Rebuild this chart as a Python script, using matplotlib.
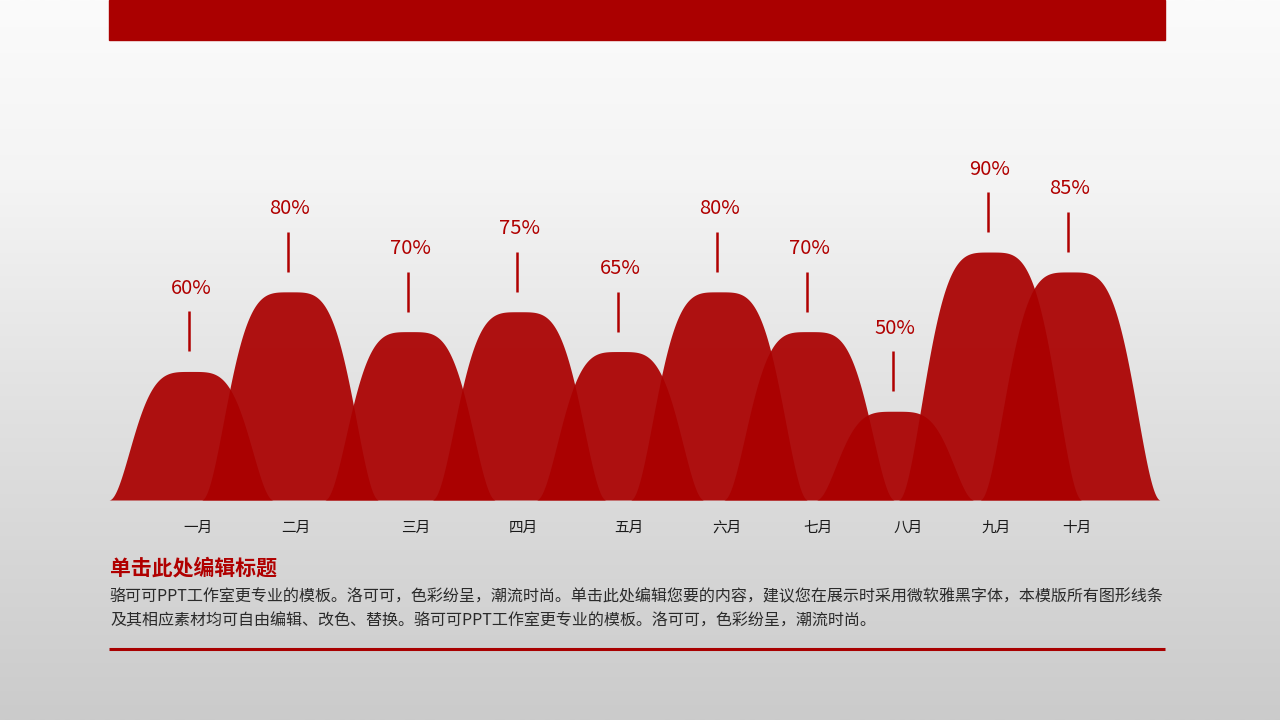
import numpy as np
import matplotlib
matplotlib.use("Agg")
import matplotlib.pyplot as plt
from matplotlib.colors import LinearSegmentedColormap

plt.rcParams['font.family'] = ['Noto Sans CJK SC', 'DejaVu Sans']

# ---- data ----
months = ["一月", "二月", "三月", "四月", "五月", "六月", "七月", "八月", "九月", "十月"]
values = [60, 80, 70, 75, 65, 80, 70, 50, 90, 85]
labels = [f"{v}%" for v in values]

# ---- layout (pixel-based x positions of the peaks) ----
peak_x = [191, 290, 410, 519, 620, 719, 809, 895, 990, 1070]
label_dx = [7, 6, 6, 4, 9, 8, 9, 13, 6, 7]
baseline = 27.7          # value at the chart floor
ytop = 128.2

title = "单击此处编辑标题"
body_lines = [
    "骆可可PPT工作室更专业的模板。洛可可，色彩纷呈，潮流时尚。单击此处编辑您要的内容，建议您在展示时采用微软雅黑字体，本模版所有图形线条",
    "及其相应素材均可自由编辑、改色、替换。骆可可PPT工作室更专业的模板。洛可可，色彩纷呈，潮流时尚。",
]

W, H = 1280, 720
fig = plt.figure(figsize=(12.8, 7.2), dpi=100)

# background gradient
bg = fig.add_axes([0, 0, 1, 1])
cmap = LinearSegmentedColormap.from_list(
    "bg", [(0.0, "#fbfbfb"), (0.25, "#f4f4f4"), (0.55, "#e2e2e2"), (1.0, "#cbcbcb")])
grad = np.linspace(0, 1, 256).reshape(-1, 1)
bg.imshow(grad, aspect="auto", cmap=cmap, extent=[0, W, H, 0])
bg.set_xlim(0, W)
bg.set_ylim(H, 0)
bg.axis("off")

# top bar and bottom rule
bg.add_patch(plt.Rectangle((109, 0), 1056, 40, color="#aa0000", zorder=2))
bg.plot([109, 1165], [648.5, 648.5], color="#a80000", lw=2.2, zorder=2,
        solid_capstyle="butt")

# title and body text
bg.text(110, 568, title, fontsize=15, fontweight="bold", color="#b00000",
        va="center", ha="left")
for i, line in enumerate(body_lines):
    bg.text(110, 597 + i * 24, line, fontsize=11.55, color="#2a2a2a",
            va="center", ha="left")

# chart axes: x in pixel layout units, y in percent
y0 = (H - 500) / H
y1 = (H - 100) / H
ax = fig.add_axes([0, y0, 1, y1 - y0])
ax.set_xlim(0, W)
ax.set_ylim(baseline, ytop)
ax.axis("off")
ax.patch.set_alpha(0)

ppu = 400.0 / (ytop - baseline)  # pixels per percent unit

xs = np.linspace(0, W, 4000)
for cx, v in zip(peak_x, values):
    h = v - baseline
    half = 72 + 0.08 * h * ppu
    d = np.abs(xs - cx) / half
    mask = d < 1
    f = 0.5 * (1 + np.cos(np.pi * d[mask] ** 1.9))
    ax.fill_between(xs[mask], baseline, baseline + h * f, color="#aa0000",
                    alpha=0.93, lw=0, zorder=3)

for cx, v, lab, dx, m in zip(peak_x, values, labels, label_dx, months):
    ax.vlines(cx - 2, v + 20 / ppu, v + 60 / ppu, color="#b00000", lw=1.8, zorder=4)
    ax.text(cx, v + 83 / ppu, lab, fontsize=14.5, color="#b00000",
            ha="center", va="center", zorder=4)
    ax.text(cx + dx, baseline - 28 / ppu, m, fontsize=10.5, color="#1a1a1a",
            ha="center", va="center", clip_on=False, zorder=4)

fig.savefig("out.png", dpi=100)
